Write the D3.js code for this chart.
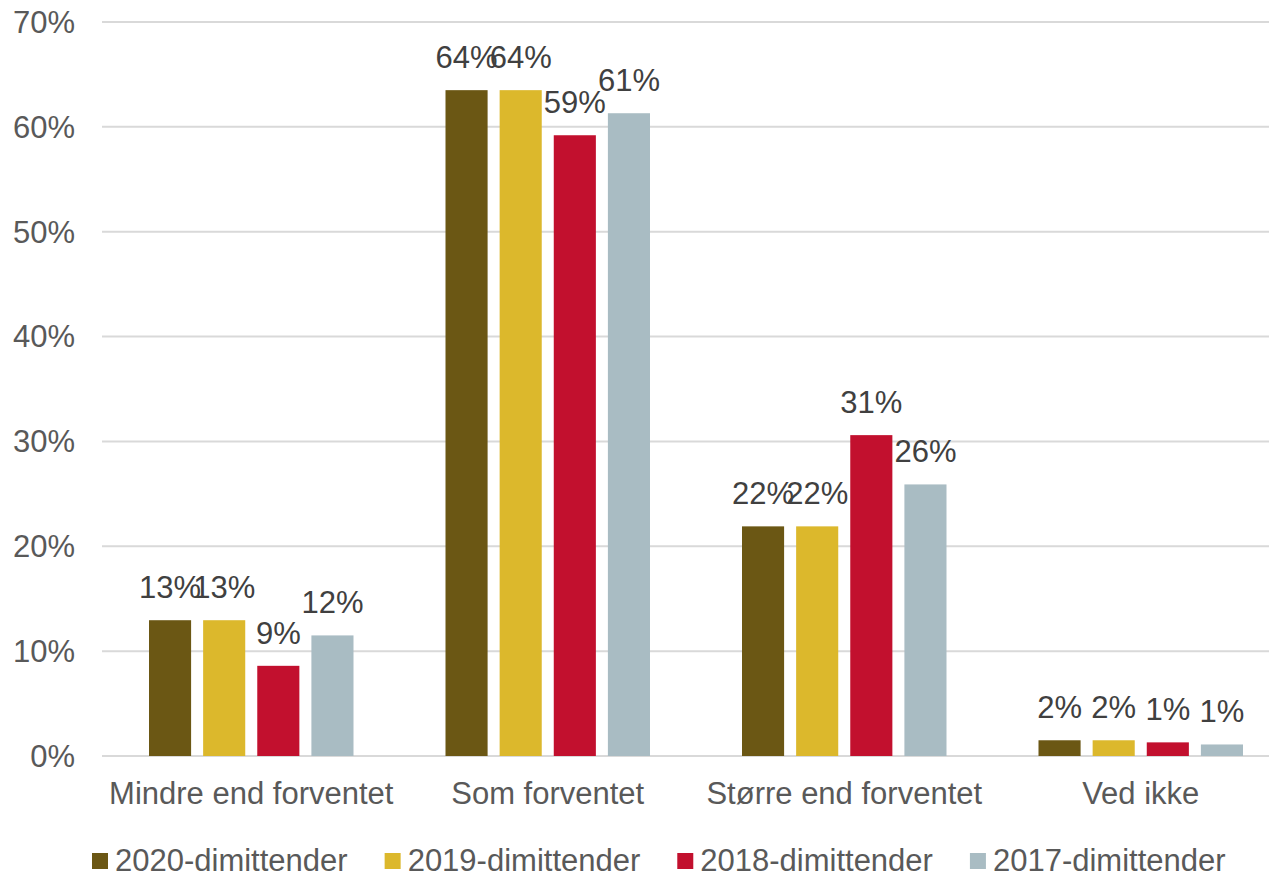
<!DOCTYPE html>
<html lang="da">
<head>
  <meta charset="UTF-8" />
  <title>Dimittender</title>
  <style>
    body { margin: 0; background: #fff; }
    svg { display: block; font-family: "Liberation Sans", Arial, sans-serif; }
    .grid line { stroke: #d9d9d9; stroke-width: 2px; }
    .tick-label, .cat-label, .legend-text { fill: #595959; font-size: 31px; }
    .value-label { fill: #404040; font-size: 31px; }
  </style>
</head>
<body>
  <svg width="1269" height="873"></svg>

  <script src="https://d3js.org/d3.v7.min.js"></script>
  <script>
    const categories = ["Mindre end forventet", "Som forventet", "Større end forventet", "Ved ikke"];
    const series = ["2020-dimittender", "2019-dimittender", "2018-dimittender", "2017-dimittender"];
    const colors = ["#6b5714", "#dcb82c", "#c2102e", "#a9bcc3"];

    // values per series, same order as categories
    const v2020 = [12.95, 63.5, 21.9, 1.5];
    const v2019 = [12.95, 63.5, 21.9, 1.5];
    const v2018 = [8.6, 59.2, 30.6, 1.3];
    const v2017 = [11.5, 61.3, 25.9, 1.1];
    const values = [v2020, v2019, v2018, v2017];
    const labels = [
      ["13%", "64%", "22%", "2%"],
      ["13%", "64%", "22%", "2%"],
      ["9%", "59%", "31%", "1%"],
      ["12%", "61%", "26%", "1%"]
    ];
    const yTicks = [0, 10, 20, 30, 40, 50, 60, 70];

    const svg = d3.select("svg");
    const W = 1269;

    const x0 = d3.scaleBand().domain(categories).range([103, 1289]).padding(0);
    const x1 = d3.scaleBand().domain(series).range([46, x0.bandwidth() - 46]).paddingInner(12 / 54);
    const y = d3.scaleLinear().domain([0, 70]).range([756, 22]);

    // gridlines
    svg.append("g").attr("class", "grid")
      .selectAll("line")
      .data(yTicks)
      .join("line")
      .attr("x1", 102).attr("x2", W)
      .attr("y1", d => y(d)).attr("y2", d => y(d));

    // y tick labels
    svg.append("g")
      .selectAll("text")
      .data(yTicks)
      .join("text")
      .attr("class", "tick-label")
      .attr("x", 75)
      .attr("y", d => y(d))
      .attr("dy", "0.35em")
      .attr("text-anchor", "end")
      .text(d => d + "%");

    // bars
    const groups = svg.append("g")
      .selectAll("g")
      .data(categories)
      .join("g")
      .attr("transform", d => `translate(${x0(d)},0)`);

    groups.each(function(cat, ci) {
      const g = d3.select(this);
      const rows = series.map((s, si) => ({ s, si, v: values[si][ci], label: labels[si][ci] }));
      g.selectAll("rect")
        .data(rows)
        .join("rect")
        .attr("x", d => x1(d.s))
        .attr("width", x1.bandwidth())
        .attr("y", d => y(d.v))
        .attr("height", d => y(0) - y(d.v))
        .attr("fill", d => colors[d.si]);
      g.selectAll("text")
        .data(rows)
        .join("text")
        .attr("class", "value-label")
        .attr("x", d => x1(d.s) + x1.bandwidth() / 2)
        .attr("y", d => y(d.v) - 22)
        .attr("text-anchor", "middle")
        .text(d => d.label);
    });

    // category labels
    svg.append("g")
      .selectAll("text")
      .data(categories)
      .join("text")
      .attr("class", "cat-label")
      .attr("x", d => x0(d) + x0.bandwidth() / 2)
      .attr("y", 804)
      .attr("text-anchor", "middle")
      .text(d => d);

    // legend
    const legend = svg.append("g");
    let lx = 92;
    series.forEach((s, i) => {
      legend.append("rect")
        .attr("x", lx).attr("y", 853)
        .attr("width", 16).attr("height", 16)
        .attr("fill", colors[i]);
      const t = legend.append("text")
        .attr("class", "legend-text")
        .attr("x", lx + 23)
        .attr("y", 871)
        .text(s);
      lx += 23 + t.node().getComputedTextLength() + 37;
    });
  </script>
</body>
</html>
